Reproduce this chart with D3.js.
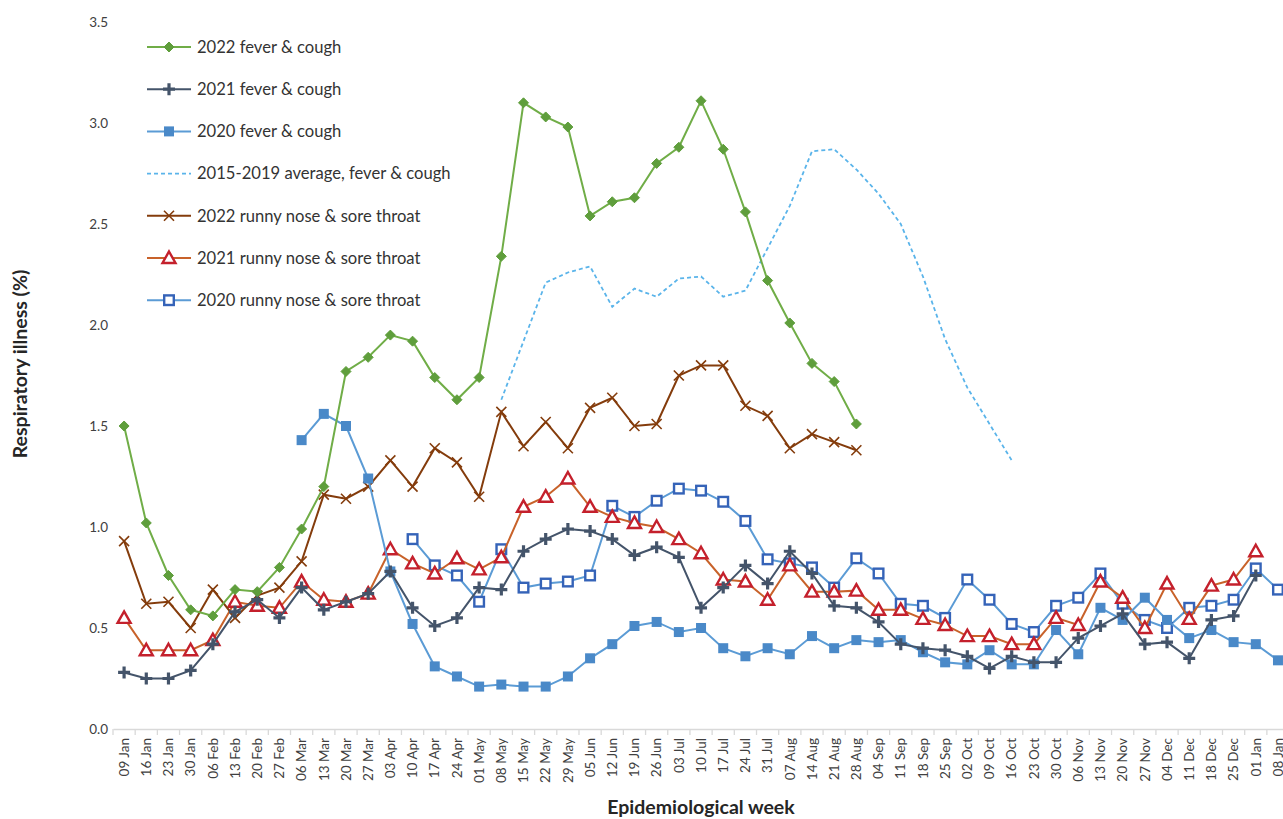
<!DOCTYPE html>
<html><head><meta charset="utf-8">
<script src="https://cdn.jsdelivr.net/npm/d3@7"></script>
<style>
html,body{margin:0;padding:0;background:#fff;overflow:hidden}
svg{display:block;font-family:Lato,"Open Sans",sans-serif}
</style></head>
<body><svg id="c" width="1283" height="819"></svg>
<script>
const weeks = ["09 Jan","16 Jan","23 Jan","30 Jan","06 Feb","13 Feb","20 Feb","27 Feb","06 Mar","13 Mar","20 Mar","27 Mar","03 Apr","10 Apr","17 Apr","24 Apr","01 May","08 May","15 May","22 May","29 May","05 Jun","12 Jun","19 Jun","26 Jun","03 Jul","10 Jul","17 Jul","24 Jul","31 Jul","07 Aug","14 Aug","21 Aug","28 Aug","04 Sep","11 Sep","18 Sep","25 Sep","02 Oct","09 Oct","16 Oct","23 Oct","30 Oct","06 Nov","13 Nov","20 Nov","27 Nov","04 Dec","11 Dec","18 Dec","25 Dec","01 Jan","08 Jan"];
const yTicks = [0,0.5,1,1.5,2,2.5,3,3.5];
const _ = null;
const fever2022 = [1.50,1.02,0.76,0.59,0.56,0.69,0.68,0.80,0.99,1.20,1.77,1.84,1.95,1.92,1.74,1.63,1.74,2.34,3.10,3.03,2.98,2.54,2.61,2.63,2.80,2.88,3.11,2.87,2.56,2.22,2.01,1.81,1.72,1.51];
const fever2021 = [0.28,0.25,0.25,0.29,0.42,0.58,0.64,0.55,0.70,0.59,0.63,0.67,0.78,0.60,0.51,0.55,0.70,0.69,0.88,0.94,0.99,0.98,0.94,0.86,0.90,0.85,0.60,0.70,0.81,0.72,0.88,0.77,0.61,0.60,0.53,0.42,0.40,0.39,0.36,0.30,0.36,0.33,0.33,0.45,0.51,0.57,0.42,0.43,0.35,0.54,0.56,0.76];
const fever2020 = [_,_,_,_,_,_,_,_,1.43,1.56,1.50,1.24,0.78,0.52,0.31,0.26,0.21,0.22,0.21,0.21,0.26,0.35,0.42,0.51,0.53,0.48,0.50,0.40,0.36,0.40,0.37,0.46,0.40,0.44,0.43,0.44,0.38,0.33,0.32,0.39,0.32,0.32,0.49,0.37,0.60,0.54,0.65,0.54,0.45,0.49,0.43,0.42,0.34];
const feverAvg = [_,_,_,_,_,_,_,_,_,_,_,_,_,_,_,_,_,1.63,1.92,2.21,2.26,2.29,2.09,2.18,2.14,2.23,2.24,2.14,2.17,2.38,2.59,2.86,2.87,2.77,2.65,2.50,2.24,1.93,1.69,1.51,1.33];
const runny2022 = [0.93,0.62,0.63,0.50,0.69,0.55,0.66,0.70,0.83,1.16,1.14,1.20,1.33,1.20,1.39,1.32,1.15,1.57,1.40,1.52,1.39,1.59,1.64,1.50,1.51,1.75,1.80,1.80,1.60,1.55,1.39,1.46,1.42,1.38];
const runny2021 = [0.55,0.39,0.39,0.39,0.44,0.63,0.61,0.60,0.73,0.64,0.63,0.67,0.89,0.82,0.77,0.845,0.79,0.85,1.10,1.15,1.24,1.10,1.05,1.02,1.00,0.94,0.87,0.74,0.73,0.64,0.81,0.68,0.68,0.685,0.59,0.59,0.545,0.515,0.46,0.46,0.42,0.42,0.55,0.515,0.73,0.65,0.50,0.72,0.545,0.71,0.74,0.88];
const runny2020 = [_,_,_,_,_,_,_,_,_,_,_,_,_,0.94,0.81,0.76,0.63,0.89,0.70,0.72,0.73,0.76,1.105,1.05,1.13,1.19,1.18,1.125,1.03,0.84,0.82,0.80,0.70,0.845,0.77,0.62,0.61,0.55,0.74,0.64,0.52,0.48,0.61,0.65,0.77,0.62,0.54,0.50,0.60,0.61,0.64,0.795,0.69];

const series = [
  {name:"2022 fever & cough", data:fever2022, line:"#70ad47", sym:"diamond", mk:"#5f9e3c", fill:"#5f9e3c"},
  {name:"2021 fever & cough", data:fever2021, line:"#44546a", sym:"plus", mk:"#44546a", fill:"#44546a"},
  {name:"2020 fever & cough", data:fever2020, line:"#5b9bd5", sym:"square", mk:"#4a89c8", fill:"#4a89c8"},
  {name:"2015-2019 average, fever & cough", data:feverAvg, line:"#5ab4ea", sym:null, dash:"4,3"},
  {name:"2022 runny nose & sore throat", data:runny2022, line:"#843c0c", sym:"x", mk:"#843c0c"},
  {name:"2021 runny nose & sore throat", data:runny2021, line:"#c8622a", sym:"triangle", mk:"#c4202c", fill:"#fff"},
  {name:"2020 runny nose & sore throat", data:runny2020, line:"#5b9bd5", sym:"osquare", mk:"#3563b8", fill:"#fff"}
];

const svg = d3.select("#c");
const bw = 22.19;
const x = d3.scaleBand().domain(weeks).range([113, 113 + bw*weeks.length]).padding(0);
const y = d3.scaleLinear().domain([0,3.5]).range([729,22]);
const cx = d => x(d) + x.bandwidth()/2;

// y axis (labels only)
const ya = svg.append("g").attr("transform","translate(113,0)")
  .call(d3.axisLeft(y).tickValues(yTicks).tickFormat(d3.format(".1f")).tickSize(0).tickPadding(5));
ya.select(".domain").remove();
ya.selectAll("text").attr("font-size",13.5).attr("fill","#404040").attr("font-family","Lato,sans-serif");

// x axis
const xa = svg.append("g").attr("transform","translate(0,729)").call(d3.axisBottom(x).tickSize(0).tickPadding(0));
xa.select(".domain").attr("stroke","#d9d9d9").attr("stroke-width",1.3);
xa.selectAll(".tick text").attr("transform","rotate(-90)").attr("text-anchor","end")
  .attr("x",-9).attr("y",0).attr("dy","0.35em").attr("font-size",13.5).attr("fill","#404040").attr("font-family","Lato,sans-serif");
// boundary ticks
const bounds = weeks.map(w => x(w)).concat([x(weeks[weeks.length-1]) + bw]);
svg.append("g").selectAll("line").data(bounds).join("line")
  .attr("x1",d=>d).attr("x2",d=>d).attr("y1",729).attr("y2",735)
  .attr("stroke","#d9d9d9").attr("stroke-width",1.3);

// titles
svg.append("text").attr("x",701).attr("y",814).attr("text-anchor","middle")
  .attr("font-size",19.5).attr("font-weight","bold").attr("fill","#262626").text("Epidemiological week");
svg.append("text").attr("transform","translate(27,364) rotate(-90)").attr("text-anchor","middle")
  .attr("font-size",19.5).attr("font-weight","bold").attr("fill","#262626").text("Respiratory illness (%)");

function drawMarker(g, s, px, py) {
  if (!s.sym) return;
  if (s.sym === "diamond") {
    g.append("path").attr("d",`M${px},${py-5}L${px+5},${py}L${px},${py+5}L${px-5},${py}Z`).attr("fill",s.fill).attr("stroke",s.mk).attr("stroke-width",1);
  } else if (s.sym === "plus") {
    g.append("path").attr("d",`M${px-6},${py}H${px+6}M${px},${py-6}V${py+6}`).attr("stroke",s.mk).attr("stroke-width",3.2);
  } else if (s.sym === "square") {
    g.append("rect").attr("x",px-5).attr("y",py-5).attr("width",10).attr("height",10).attr("fill",s.fill);
  } else if (s.sym === "x") {
    g.append("path").attr("d",`M${px-5},${py-5}L${px+5},${py+5}M${px-5},${py+5}L${px+5},${py-5}`).attr("stroke",s.mk).attr("stroke-width",1.6);
  } else if (s.sym === "triangle") {
    g.append("path").attr("d",`M${px},${py-6.5}L${px+6.5},${py+5}L${px-6.5},${py+5}Z`).attr("fill",s.fill).attr("stroke",s.mk).attr("stroke-width",2.4);
  } else if (s.sym === "osquare") {
    g.append("rect").attr("x",px-4.8).attr("y",py-4.8).attr("width",9.6).attr("height",9.6).attr("fill",s.fill).attr("stroke",s.mk).attr("stroke-width",2.4);
  }
}

// series (draw in reverse so 2022 fever on top)
const plot = svg.append("g");
[...series].reverse().forEach(s => {
  const pts = weeks.map((w,i) => ({w, v: s.data[i]}));
  const line = d3.line().defined(d => d.v != null).x(d => cx(d.w)).y(d => y(d.v));
  const g = plot.append("g");
  g.append("path").attr("d", line(pts)).attr("fill","none").attr("stroke", s.line)
    .attr("stroke-width", s.dash ? 1.8 : 2).attr("stroke-dasharray", s.dash || null);
  pts.filter(d => d.v != null).forEach(d => drawMarker(g, s, cx(d.w), y(d.v)));
});

// legend
const lg = svg.append("g");
series.forEach((s,i) => {
  const ly = 47 + i*42.2;
  const g = lg.append("g");
  g.append("line").attr("x1",147).attr("x2",191).attr("y1",ly).attr("y2",ly).attr("stroke",s.line)
    .attr("stroke-width", s.dash ? 1.8 : 2).attr("stroke-dasharray", s.dash || null);
  drawMarker(g, s, 169, ly);
  g.append("text").attr("x",197).attr("y",ly).attr("dy","0.35em").attr("font-size",16.6).attr("fill","#333").text(s.name);
});
</script></body></html>
